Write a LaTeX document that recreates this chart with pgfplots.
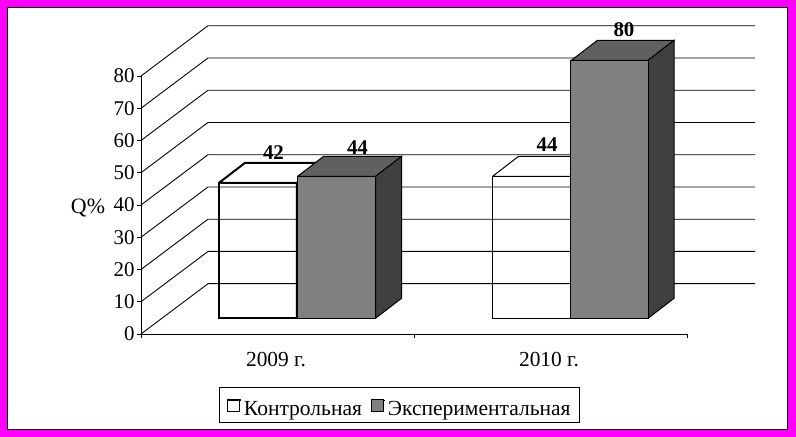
\documentclass[border=0pt]{standalone}
\usepackage{fontspec}
\setmainfont{Liberation Serif}
\usepackage{pgfplots}
\pgfplotsset{compat=1.18}
\definecolor{frontgray}{HTML}{808080}
\definecolor{topgray}{HTML}{606060}
\definecolor{sidegray}{HTML}{404040}
\definecolor{framepink}{HTML}{FF00FF}
% top and side of a bar: left x, value, bar width in x units, top fill, side fill, line width
\newcommand{\barfaces}[6]{%
  \pgfmathsetmacro{\xr}{#1+#3}%
  \pgfmathsetmacro{\xbl}{#1+0.0952}%
  \pgfmathsetmacro{\xbr}{#1+#3+0.0952}%
  \pgfmathsetmacro{\vb}{#2+6.2}%
  \addplot[forget plot,draw=black,fill=#4,line width=#6,yshift=15.7bp,line join=miter]
    coordinates {(#1,#2) (\xr,#2) (\xbr,\vb) (\xbl,\vb) (#1,#2)};
  \addplot[forget plot,draw=black,fill=#5,line width=#6,yshift=15.7bp,line join=miter]
    coordinates {(\xr,0) (\xr,#2) (\xbr,\vb) (\xbr,6.2) (\xr,0)};
}
\begin{document}
\begin{tikzpicture}
\useasboundingbox (0,0) rectangle (796bp,437bp);
\fill[framepink] (0,0) rectangle (796bp,437bp);
\draw[black,fill=white,line width=1bp] (7.3bp,7bp) rectangle (787.3bp,429.7bp);
\begin{axis}[
  at={(141bp,103bp)}, anchor=south west,
  scale only axis, width=546bp, height=258bp,
  xmin=-0.5, xmax=1.5, ymin=0, ymax=80,
  axis lines=left, axis line style={-,line width=1bp},
  clip=false,
  ytick={0,10,...,80},
  xtick={0,1}, xticklabels={2009 г.,2010 г.},
  minor xtick={-0.5,0.5,1.5},
  major x tick style={draw=none},
  minor x tick style={black,line width=1bp},
  minor tick length=4bp,
  major tick length=4bp,
  y tick style={black,line width=1bp},
  tick align=outside,
  /pgf/number format/assume math mode=true,
  y tick label style={xshift=1bp,font=\fontsize{21}{24}\selectfont},
  x tick label style={yshift=-11bp,xshift=-1.5bp,font=\fontsize{21.5}{24}\selectfont},
  ylabel={Q\%},
  y label style={at={(axis description cs:-0.097,0.49)},rotate=-90,anchor=center,font=\fontsize{22}{24}\selectfont},
  legend columns=2,
  legend style={at={(0.4734,-0.277)},anchor=center,draw=black,line width=1bp,
    font=\fontsize{21.6}{24}\selectfont,inner xsep=7bp,inner ysep=3.5bp,
    nodes={anchor=base},
    /tikz/every even column/.append style={column sep=7bp}},
  legend image code/.code={%
    \path (0bp,0bp) -- (14bp,0bp);
    \draw[#1,line width=0.8bp,overlay] (0bp,-11bp) rectangle (12bp,1bp);},
]
% back wall
\pgfplotsinvokeforeach{0,10,...,80}{
  \draw[black,line width=0.9bp] (axis cs:-0.5,#1) -- ++(67bp,50.3bp) -- ++(547bp,0bp);
}
% Контрольная
\barfaces{-0.2143}{42}{0.2857}{none}{none}{2bp}
\barfaces{0.7875}{44}{0.2885}{none}{none}{1bp}
\addplot[ybar,bar width=78bp,bar shift=-19.5bp,yshift=15.7bp,draw=black,fill=none,line width=1.6bp]
  coordinates {(0,42)};
\addlegendentry{\rule{0pt}{22.5bp}Контрольная}
\addplot[forget plot,ybar,bar width=78bp,bar shift=-19.5bp,yshift=15.7bp,draw=black,fill=none,line width=1bp]
  coordinates {(1,44)};
% Экспериментальная
\barfaces{0.0733}{44}{0.2857}{topgray}{sidegray}{1bp}
\barfaces{1.0767}{80}{0.2806}{topgray}{sidegray}{1bp}
\addplot[ybar,bar width=78bp,bar shift=58.5bp,yshift=15.7bp,draw=black,fill=frontgray,line width=1bp]
  coordinates {(0,44) (1,80)};
\addlegendentry{\rule{0pt}{22.5bp}Экспериментальная}
% values
\node[font=\bfseries\fontsize{21}{24}\selectfont] at (axis cs:-0.0147,56.3) {42};
\node[font=\bfseries\fontsize{21}{24}\selectfont] at (axis cs:0.293,57.8) {44};
\node[font=\bfseries\fontsize{21}{24}\selectfont] at (axis cs:0.9872,58.7) {44};
\node[font=\bfseries\fontsize{21}{24}\selectfont] at (axis cs:1.2692,94.5) {80};
\end{axis}
\end{tikzpicture}
\end{document}
